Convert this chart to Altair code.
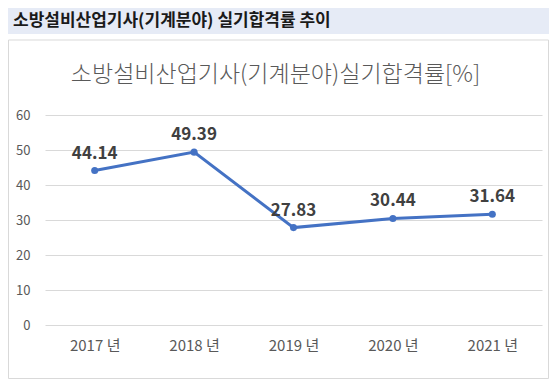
import altair as alt
import pandas as pd

years = ["2017 년", "2018 년", "2019 년", "2020 년", "2021 년"]
rates = [44.14, 49.39, 27.83, 30.44, 31.64]
rate_labels = ["44.14", "49.39", "27.83", "30.44", "31.64"]
y_ticks = [0, 10, 20, 30, 40, 50, 60]
header_title = "소방설비산업기사(기계분야) 실기합격률 추이"
chart_title = "소방설비산업기사(기계분야)실기합격률[%]"

FONT = "Noto Sans CJK KR"

df = pd.DataFrame({"year": years, "rate": rates, "label": rate_labels})
one = pd.DataFrame({"k": [0]})

x = alt.X(
    "year:O",
    sort=years,
    scale=alt.Scale(type="point", padding=0.5),
    axis=alt.Axis(
        title=None, labelAngle=0, ticks=False, domain=False, grid=False,
        labelFontSize=15, labelColor="#595959", labelPadding=13, labelFont=FONT,
    ),
)
y = alt.Y(
    "rate:Q",
    scale=alt.Scale(domain=[0, 60], nice=False),
    axis=alt.Axis(
        values=y_ticks, title=None, ticks=False, domain=False,
        labelFontSize=13, labelColor="#595959", labelPadding=15, labelFont=FONT,
        gridColor="#d9d9d9", gridWidth=1,
    ),
)

header = alt.Chart(one).mark_rect(color="#e6ebf6").encode(
    x=alt.value(-37), x2=alt.value(504), y=alt.value(-107), y2=alt.value(-81)
)
header_text = alt.Chart(one).mark_text(
    text=header_title, align="left", baseline="middle",
    font=FONT, fontSize=17, fontWeight="bold", color="#1a1a1a",
).encode(x=alt.value(-32), y=alt.value(-94))

box = alt.Chart(one).mark_rect(
    fillOpacity=0, stroke="#d9d9d9", strokeWidth=1
).encode(
    x=alt.value(-36.5), x2=alt.value(503.5), y=alt.value(-75), y2=alt.value(263.5)
)
title_text = alt.Chart(one).mark_text(
    text=chart_title, align="center", baseline="alphabetic",
    font=FONT, fontSize=23, fontWeight=300, color="#595959",
).encode(x=alt.value(230.5), y=alt.value(-33))

base = alt.Chart(df).encode(x=x, y=y)
line = base.mark_line(color="#4472C4", strokeWidth=3)
points = base.mark_point(filled=True, color="#4472C4", size=50, opacity=1)
labels = base.mark_text(
    dy=-17, font=FONT, fontSize=17, fontWeight="bold", color="#404040"
).encode(text="label:N")

chart = alt.layer(header, header_text, box, title_text, line, points, labels).properties(
    width=497,
    height=210,
    autosize=alt.AutoSizeParams(type="none"),
    padding={"left": 37, "top": 107, "right": 7, "bottom": 54},
    background="white",
).configure_view(stroke=None)

chart.save("out.html", embed_options={"renderer": "svg", "actions": False})
